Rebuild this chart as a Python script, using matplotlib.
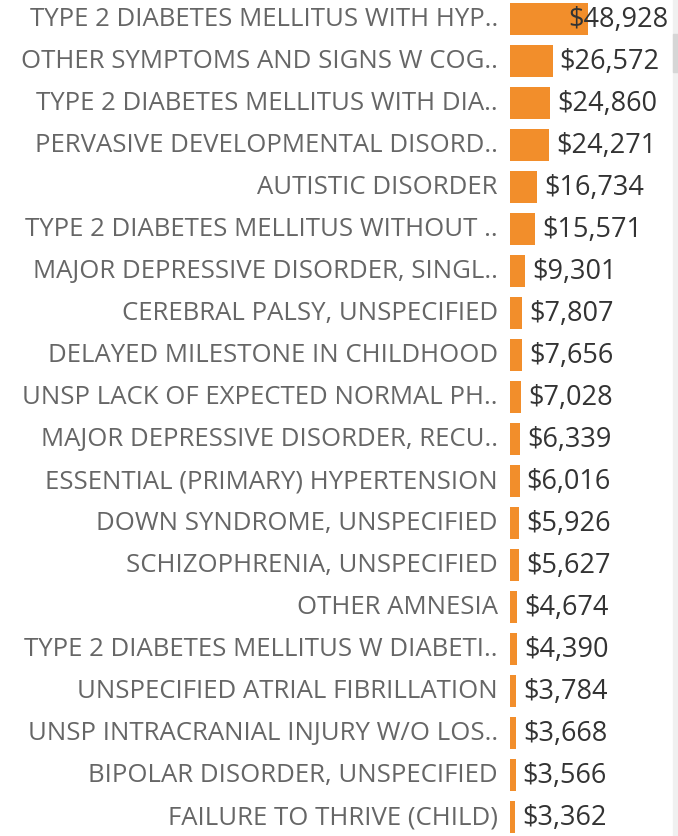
import matplotlib
matplotlib.use("Agg")
import matplotlib.pyplot as plt
from matplotlib.patches import Rectangle

# Diagnosis labels (truncated as shown) and total cost
labels = [
    "TYPE 2 DIABETES MELLITUS WITH HYP..",
    "OTHER SYMPTOMS AND SIGNS W COG..",
    "TYPE 2 DIABETES MELLITUS WITH DIA..",
    "PERVASIVE DEVELOPMENTAL DISORD..",
    "AUTISTIC DISORDER",
    "TYPE 2 DIABETES MELLITUS WITHOUT ..",
    "MAJOR DEPRESSIVE DISORDER, SINGL..",
    "CEREBRAL PALSY, UNSPECIFIED",
    "DELAYED MILESTONE IN CHILDHOOD",
    "UNSP LACK OF EXPECTED NORMAL PH..",
    "MAJOR DEPRESSIVE DISORDER, RECU..",
    "ESSENTIAL (PRIMARY) HYPERTENSION",
    "DOWN SYNDROME, UNSPECIFIED",
    "SCHIZOPHRENIA, UNSPECIFIED",
    "OTHER AMNESIA",
    "TYPE 2 DIABETES MELLITUS W DIABETI..",
    "UNSPECIFIED ATRIAL FIBRILLATION",
    "UNSP INTRACRANIAL INJURY W/O LOS..",
    "BIPOLAR DISORDER, UNSPECIFIED",
    "FAILURE TO THRIVE (CHILD)",
]
costs = [48928, 26572, 24860, 24271, 16734, 15571, 9301, 7807, 7656, 7028,
         6339, 6016, 5926, 5627, 4674, 4390, 3784, 3668, 3566, 3362]

W, H = 678, 837
fig = plt.figure(figsize=(W / 100, H / 100), dpi=100)
fig.patch.set_facecolor("white")

# bar axes: starts at x=510px, 1.6 px per $1000
x0 = 510
px_per_unit = 1.6 / 1000
ax = fig.add_axes([x0 / W, 0, (W - x0) / W, 1])
ax.set_xlim(0, (W - x0) / px_per_unit)
top_px, step = 20, 42
ax.set_ylim((H - top_px) / step, -top_px / step)
ax.axis("off")

rows = list(range(len(labels)))
ax.barh(rows, costs, height=0.77, color="#f28e2b", edgecolor="none")

for i, (lab, c) in enumerate(zip(labels, costs)):
    ax.text(-12 / (W - x0), i, lab, ha="right", va="center",
            fontsize=18.5, color="#666666", family="Open Sans",
            transform=ax.get_yaxis_transform())
    # value label just right of the bar, kept inside the view
    end_px = c * px_per_unit + 7
    xs = min(end_px, 668 - x0 - 100) / px_per_unit
    ax.text(xs, i, f"${c:,}", ha="left", va="center", fontsize=19.5,
            color="#333333", family="Open Sans")

# scrollbar strip at right edge
fig.patches.append(Rectangle((673 / W, 0), 5 / W, 1, transform=fig.transFigure,
                             color="#f0f0f0", zorder=0))
fig.patches.append(Rectangle((673 / W, 1 - 73 / H), 5 / W, 38 / H,
                             transform=fig.transFigure, color="#d6d6d6", zorder=0))

fig.savefig("out.png", dpi=100)
